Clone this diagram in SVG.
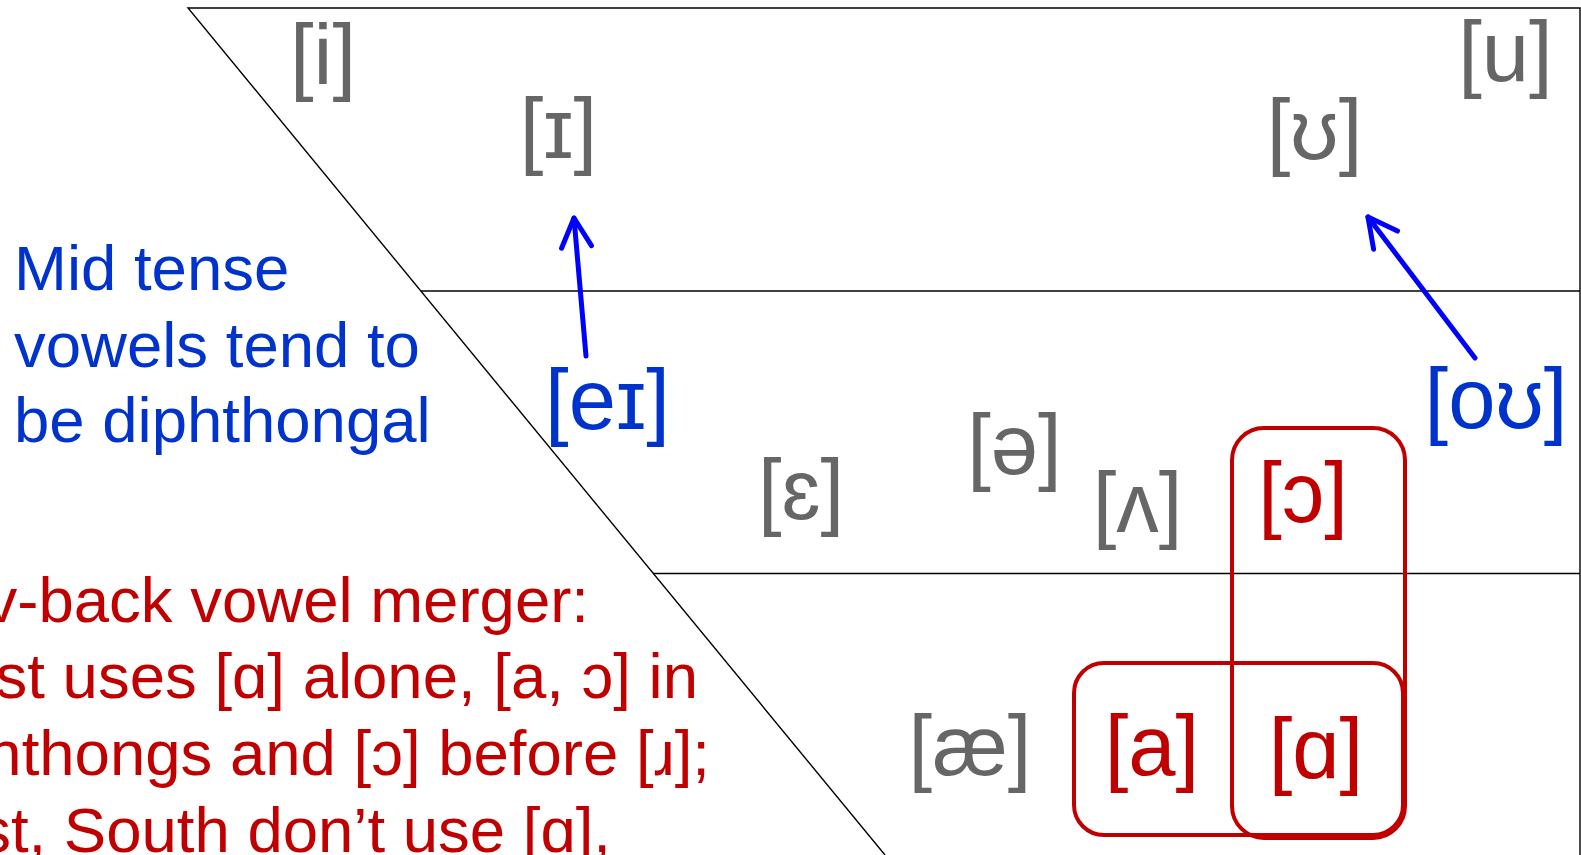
<svg xmlns="http://www.w3.org/2000/svg" width="1581" height="855" viewBox="0 0 1581 855">
<defs>
<style>
.chart{fill:none;stroke:#000;stroke-width:1.4}
.ipa{font-family:"Liberation Sans",Arial,"DejaVu Sans",sans-serif;font-size:85px;text-anchor:middle}
.gray{fill:#666666}
.red{fill:#C00000}
.blue{fill:#0033CC}
.note{font-family:"Liberation Sans",Arial,sans-serif;font-size:63.5px}
.box{fill:none;stroke:#C00000;stroke-width:4}
.arrow{fill:none;stroke:#0000FF;stroke-width:5;stroke-linecap:round}
</style>
<marker id="head" markerUnits="userSpaceOnUse" markerWidth="44" markerHeight="44" viewBox="-36 -22 44 44" refX="0" refY="0" orient="auto">
<path d="M-29,-15 L0,0 L-29,15" fill="none" stroke="#0000FF" stroke-width="5" stroke-linecap="round" stroke-linejoin="round"/>
</marker>
</defs>
<rect width="1581" height="855" fill="#fff"/>
<g id="chart">
<polyline class="chart" points="885,855 188,8 1580,8 1580,855"/>
<line class="chart" x1="421" y1="291" x2="1580" y2="291"/>
<line class="chart" x1="653" y1="573.5" x2="1580" y2="573.5"/>
</g>
<g id="note-tense" class="note blue">
<text x="14" y="290">Mid tense</text>
<text x="14" y="367">vowels tend to</text>
<text x="14" y="442">be diphthongal</text>
</g>
<g id="note-merger" class="note red" text-anchor="end">
<text x="589" y="622">v-back vowel merger:</text>
<text x="698" y="698">st uses [ɑ] alone, [a, ɔ] in</text>
<text x="710" y="775">nthongs and [ɔ] before [ɹ];</text>
<text x="611" y="852">st, South don’t use [ɑ],</text>
</g>
<g id="v-i"><text class="ipa gray" x="323" y="84">[i]</text></g>
<g id="v-I"><text class="ipa gray" x="558.5" y="158">[ɪ]</text></g>
<g id="v-u"><text class="ipa gray" x="1505.5" y="81">[u]</text></g>
<g id="v-U"><text class="ipa gray" x="1314.5" y="159">[ʊ]</text></g>
<g id="v-eI"><text class="ipa blue" x="607.5" y="429">[eɪ]</text></g>
<g id="v-oU"><text class="ipa blue" x="1496" y="428">[oʊ]</text></g>
<g id="v-E"><text class="ipa gray" x="801" y="519">[ɛ]</text></g>
<g id="v-schwa"><text class="ipa gray" x="1014.5" y="474">[ə]</text></g>
<g id="v-wedge"><text class="ipa gray" x="1137.5" y="532">[ʌ]</text></g>
<g id="v-open-o"><text class="ipa red" x="1303" y="522">[ɔ]</text></g>
<g id="v-ae"><text class="ipa gray" x="970" y="775">[æ]</text></g>
<g id="v-a"><text class="ipa red" x="1152" y="775">[a]</text></g>
<g id="v-script-a"><text class="ipa red" x="1316" y="778">[ɑ]</text></g>
<g id="boxes">
<rect class="box" x="1232" y="428" width="173" height="410" rx="32" ry="32"/>
<rect class="box" x="1074" y="663" width="329" height="172" rx="30" ry="30"/>
</g>
<g id="connectors">
<line class="arrow" x1="586" y1="356" x2="574" y2="218" marker-end="url(#head)"/>
<line class="arrow" x1="1475" y1="358" x2="1368" y2="217" marker-end="url(#head)"/>
</g>
</svg>
